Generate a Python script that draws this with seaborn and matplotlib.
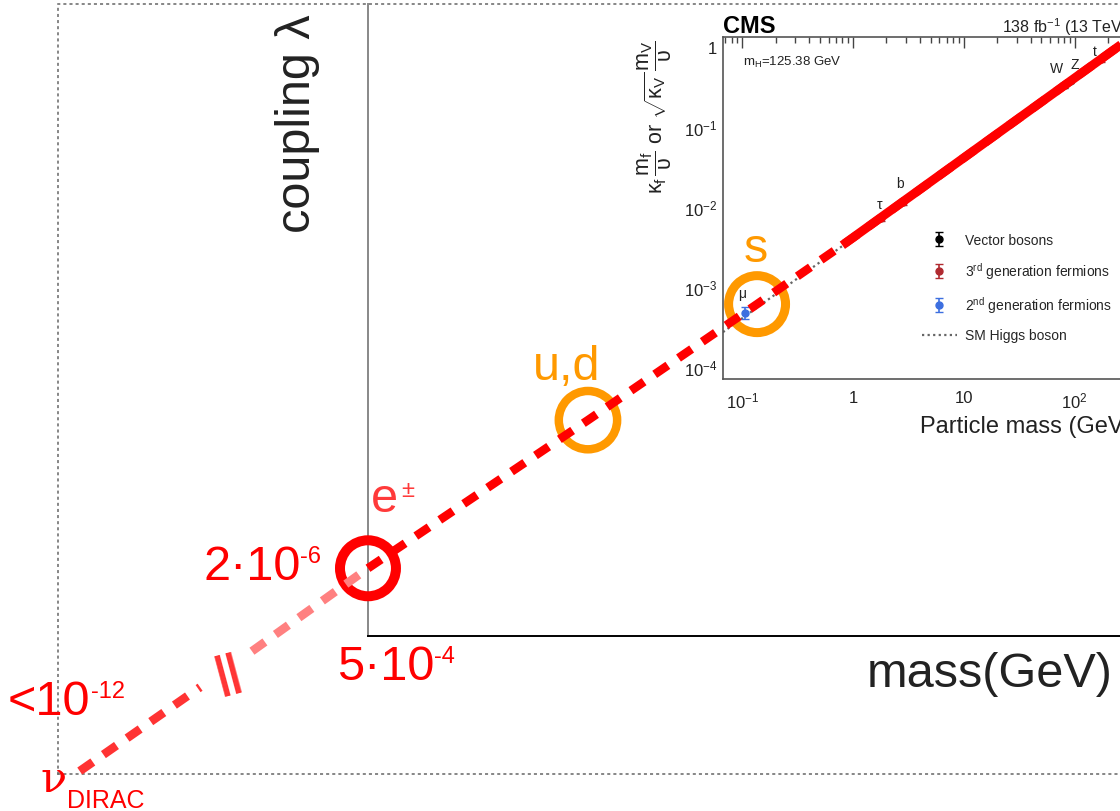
import numpy as np
import matplotlib
matplotlib.use("Agg")
import matplotlib.pyplot as plt
import seaborn as sns
from matplotlib.ticker import FixedLocator, FixedFormatter, LogLocator, NullFormatter

# ---- sketch: coupling vs mass (values on the scale of the CMS inset) ----
nu_mass = [1.05e-7, 1.28e-6]
nu_coupling = [8.7e-10, 9.75e-9]
pink_mass = [3.76e-6, 4.19e-5]
pink_coupling = [2.75e-8, 3.0e-7]
red_mass = [4.19e-5, 4.05e-3, 0.136, 1.0, 400]
red_coupling = [3.0e-7, 2.14e-5, 6.05e-4, 4.1e-3, 1.63]
solid_mass = [0.8, 400]
solid_coupling = [3.3e-3, 1.63]

ring_names = ["e±", "u,d", "s"]
ring_mass = [4.19e-5, 4.05e-3, 0.136]
ring_coupling = [3.0e-7, 2.14e-5, 6.05e-4]

# ---- CMS inset ----
sm_mass = [0.067, 350]
sm_coupling = [2.7e-4, 1.42]
vec_mass = [80.4, 91.2]
vec_coupling = [0.33, 0.37]
vec_err = [0.02, 0.02]
gen3_mass = [1.777, 2.8, 172.8]
gen3_coupling = [7.2e-3, 1.15e-2, 0.70]
gen3_err = [5e-4, 1e-3, 0.05]
gen2_mass = [0.1057]
gen2_coupling = [4.7e-4]
gen2_err = [8e-5]
particle_labels = ["μ", "τ", "b", "W", "Z", "t"]
label_mass = [0.1, 1.75, 2.65, 68.9, 100, 151]
label_coupling = [8.4e-4, 0.0109, 0.02, 0.546, 0.613, 0.89]

x_ticks = [0.1, 1, 10, 100]
x_ticklabels = [r"$10^{-1}$", "1", "10", r"$10^{2}$"]
y_ticks = [1e-4, 1e-3, 1e-2, 1e-1, 1]
y_ticklabels = [r"$10^{-4}$", r"$10^{-3}$", r"$10^{-2}$", r"$10^{-1}$", "1"]

sns.set_theme(style="white")
plt.rcParams["font.family"] = ["Liberation Sans", "DejaVu Sans"]
plt.rcParams["mathtext.fontset"] = "custom"
plt.rcParams["mathtext.rm"] = "Liberation Sans"
plt.rcParams["mathtext.it"] = "Liberation Sans:italic"
plt.rcParams["mathtext.bf"] = "Liberation Sans:bold"

W, H = 1120, 812
fig = plt.figure(figsize=(W / 100, H / 100), dpi=100)
fig.patch.set_facecolor("white")
renderer = fig.canvas.get_renderer()


def rect(x0, y0, x1, y1):
    return [x0 / W, 1 - y1 / H, (x1 - x0) / W, (y1 - y0) / H]


def ftext(x, y, s, **kw):
    return fig.text(x / W, 1 - y / H, s, **kw)


def sup_text(x, y, base, sup, color, size=35, supsize=17, rise=17, gap=0):
    t = ftext(x, y, base, ha="left", va="baseline", fontsize=size, color=color)
    bb = t.get_window_extent(renderer=renderer)
    fig.text((bb.x1 + gap) / W, 1 - (y - rise) / H, sup, ha="left", va="baseline",
             fontsize=supsize, color=color)


# dotted outer frame
ax_frame = fig.add_axes(rect(58, 5, 1250, 775), zorder=1)
ax_frame.patch.set_visible(False)
ax_frame.set_xticks([])
ax_frame.set_yticks([])
for side in ["left", "top", "bottom"]:
    ax_frame.spines[side].set_linestyle((0, (1, 3)))
    ax_frame.spines[side].set_color("#666666")
    ax_frame.spines[side].set_linewidth(1.1)
ax_frame.spines["right"].set_visible(False)

# inner solid box
ax_box = fig.add_axes(rect(368, 5, 1250, 637), zorder=1)
ax_box.patch.set_visible(False)
ax_box.set_xticks([])
ax_box.set_yticks([])
ax_box.spines["top"].set_visible(False)
ax_box.spines["right"].set_visible(False)
ax_box.spines["left"].set_color("#888888")
ax_box.spines["left"].set_linewidth(1.4)
ax_box.spines["bottom"].set_color("black")
ax_box.spines["bottom"].set_linewidth(1.4)

# CMS inset
ix0, iy0, ix1, iy1 = 723, 38, 1135, 380
xlim = (0.067, 350)
ylim = (7e-5, 1.33)
ax_cms = fig.add_axes(rect(ix0, iy0, ix1, iy1), zorder=2)
ax_cms.patch.set_visible(False)
ax_cms.set_xscale("log")
ax_cms.set_yscale("log")
ax_cms.set_xlim(*xlim)
ax_cms.set_ylim(*ylim)

sns.lineplot(x=sm_mass, y=sm_coupling, ax=ax_cms, color="#666666",
             linestyle=(0, (1, 1.5)), lw=1.6, label="SM Higgs boson")
ax_cms.errorbar(vec_mass, vec_coupling, yerr=vec_err, fmt="o", color="black",
                ms=5, capsize=3, elinewidth=1.2, label="Vector bosons")
ax_cms.errorbar(gen3_mass, gen3_coupling, yerr=gen3_err, fmt="o", color="#b02a30",
                ms=5, capsize=3, elinewidth=1.2, label=r"3$^{\mathregular{rd}}$ generation fermions")
ax_cms.errorbar(gen2_mass, gen2_coupling, yerr=gen2_err, fmt="o", color="#3d6fe0",
                ms=5, capsize=3, elinewidth=1.2, label=r"2$^{\mathregular{nd}}$ generation fermions")
for lab, m, c in zip(particle_labels, label_mass, label_coupling):
    ax_cms.text(m, c, lab, fontsize=10, color="#222222", ha="center", va="center")

ax_cms.xaxis.set_major_locator(FixedLocator(x_ticks))
ax_cms.xaxis.set_major_formatter(FixedFormatter(x_ticklabels))
ax_cms.yaxis.set_major_locator(FixedLocator(y_ticks))
ax_cms.yaxis.set_major_formatter(FixedFormatter(y_ticklabels))
ax_cms.xaxis.set_minor_locator(LogLocator(base=10, subs=np.arange(2, 10), numticks=20))
ax_cms.yaxis.set_minor_locator(LogLocator(base=10, subs=np.arange(2, 10), numticks=20))
ax_cms.xaxis.set_minor_formatter(NullFormatter())
ax_cms.yaxis.set_minor_formatter(NullFormatter())
ax_cms.tick_params(which="both", direction="in", top=True, right=True,
                   colors="#444444", labelcolor="#222222", labelsize=12)
ax_cms.tick_params(which="major", length=8, width=1)
ax_cms.tick_params(which="minor", length=4, width=1)
ax_cms.tick_params(axis="x", which="major", pad=8)
ax_cms.tick_params(axis="y", which="major", pad=4)
for sp in ax_cms.spines.values():
    sp.set_color("#555555")
    sp.set_linewidth(1.2)

ax_cms.set_xlabel("Particle mass (GeV)", fontsize=17, color="#222222")
ax_cms.xaxis.set_label_coords((920 - ix0) / (ix1 - ix0), (iy1 - 433) / (iy1 - iy0))
ax_cms.xaxis.label.set_horizontalalignment("left")
ax_cms.xaxis.label.set_verticalalignment("baseline")
ax_cms.set_ylabel(r"$\mathrm{\kappa_f}\,\dfrac{\mathrm{m_f}}{\mathrm{\upsilon}}$ or "
                  r"$\sqrt{\mathrm{\kappa_V}}\,\dfrac{\mathrm{m_V}}{\mathrm{\upsilon}}$",
                  fontsize=15.5, color="#222222")
ax_cms.yaxis.set_label_coords((674 - ix0) / (ix1 - ix0), (iy1 - 117) / (iy1 - iy0))

ax_cms.text(0, (iy1 - 33) / (iy1 - iy0), "CMS", transform=ax_cms.transAxes,
            fontsize=17, fontweight="bold", ha="left", va="baseline", color="black")
ax_cms.text((1002 - ix0) / (ix1 - ix0), (iy1 - 33) / (iy1 - iy0),
            r"138 fb$^{\mathregular{-1}}$ (13 TeV)", transform=ax_cms.transAxes,
            fontsize=11.5, ha="left", va="baseline", color="#222222")
ax_cms.text((743 - ix0) / (ix1 - ix0), (iy1 - 66) / (iy1 - iy0),
            r"m$_{\mathregular{H}}$=125.38 GeV", transform=ax_cms.transAxes,
            fontsize=9.5, ha="left", va="baseline", color="#222222")

handles, labels = ax_cms.get_legend_handles_labels()
order = ["Vector bosons", r"3$^{\mathregular{rd}}$ generation fermions",
         r"2$^{\mathregular{nd}}$ generation fermions", "SM Higgs boson"]
hl = dict(zip(labels, handles))
ax_cms.legend([hl[o] for o in order], order, loc="upper left",
              bbox_to_anchor=((922 - ix0) / (ix1 - ix0), (iy1 - 234) / (iy1 - iy0)),
              frameon=False, fontsize=10, handlelength=2.5, handletextpad=0.6,
              labelspacing=0.95, borderpad=0, borderaxespad=0)

# main sketch axes: whole figure, same log scale as the inset
ax = fig.add_axes([0, 0, 1, 1], zorder=3)
ax.patch.set_visible(False)
ax.set_xscale("log")
ax.set_yscale("log")
dx = (np.log10(xlim[1]) - np.log10(xlim[0])) / (ix1 - ix0)
dy = (np.log10(ylim[1]) - np.log10(ylim[0])) / (iy1 - iy0)
ax.set_xlim(10 ** (np.log10(xlim[0]) - ix0 * dx), 10 ** (np.log10(xlim[0]) + (W - ix0) * dx))
ax.set_ylim(10 ** (np.log10(ylim[0]) - (H - iy1) * dy), 10 ** (np.log10(ylim[1]) + iy0 * dy))
ax.axis("off")

ring_colors = ["#ff0000", "#ff9900", "#ff9900"]
ring_sizes = [40.3 ** 2, 42 ** 2, 41 ** 2]
ring_lw = [7.2, 6.1, 6.5]
for m, c, col, s, lw in zip(ring_mass, ring_coupling, ring_colors, ring_sizes, ring_lw):
    ax.scatter([m], [c], s=s, facecolors="none", edgecolors=col, linewidths=lw, zorder=2)

dash = (0, (1.85, 1.5))
sns.lineplot(x=solid_mass, y=solid_coupling, ax=ax, color="#ff0000", lw=6.5,
             solid_capstyle="butt", zorder=3)
sns.lineplot(x=nu_mass, y=nu_coupling, ax=ax, color="#ff3333", lw=6.2,
             linestyle=dash, dash_capstyle="butt", zorder=3)
sns.lineplot(x=pink_mass, y=pink_coupling, ax=ax, color="#ff8080", lw=6.2,
             linestyle=dash, dash_capstyle="butt", zorder=3)
sns.lineplot(x=red_mass, y=red_coupling, ax=ax, color="#ff0000", lw=6.2,
             linestyle=dash, dash_capstyle="butt", zorder=3)

# annotations
big = 35
ftext(310, 233, "coupling λ", rotation=90, rotation_mode="anchor", ha="left",
      va="baseline", fontsize=big, color="#222222")
ftext(867, 687, "mass(GeV)", ha="left", va="baseline", fontsize=big, color="#222222")
sup_text(8, 715, "<10", "-12", "red")
sup_text(337, 680, "5·10", "-4", "red")
sup_text(203, 580, "2·10", "-6", "red")
sup_text(371, 512, "e", "±", "#ff3a3a", rise=15, gap=3)
ftext(533, 380, "u,d", ha="left", va="baseline", fontsize=big, color="#ff9900")
ftext(744, 262, "s", ha="left", va="baseline", fontsize=big, color="#ff9900")
ftext(40, 792, "ν", ha="left", va="baseline", fontsize=31, color="red", family="DejaVu Serif")
ftext(67, 808, "DIRAC", ha="left", va="baseline", fontsize=18, color="red")
ftext(228, 673, "||", ha="center", va="center", fontsize=32, fontweight="bold",
      color="#ff3333", rotation=15)

fig.savefig("out.png", dpi=100)
